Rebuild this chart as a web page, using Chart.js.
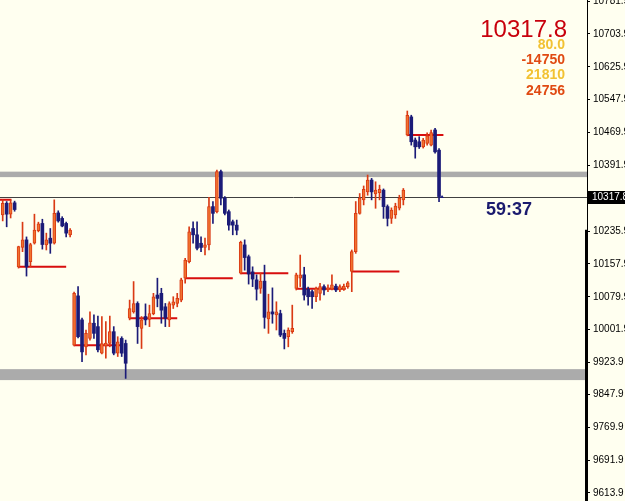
<!DOCTYPE html>
<html><head><meta charset="utf-8">
<script src="https://cdn.jsdelivr.net/npm/chart.js@4.4.0/dist/chart.umd.min.js"></script>
<style>html,body{margin:0;padding:0;background:#FFFFF0;}#wrap{width:625px;height:501px;position:relative;}</style>
</head><body><div id="wrap"><canvas id="c" width="625" height="501"></canvas></div>
<script>
// ---- data ----
const opens = [10274,10302,10276,10303,10151,10197,10215,10163,10207,10237,
10254,10203,10219,10207,10279,10266,10254,10227,9965,10082,
10025,9961,9981,10017,10009,9946,9963,9969,9997,9946,
9981,9969,10029,10044,10064,10005,10033,10026,10040,10084,
10088,10056,10025,10060,10064,10072,10124,10163,10242,10227,
10207,10197,10203,10294,10282,10377,10314,10282,10258,10250,
10136,10203,10175,10139,10120,10100,10117,10027,10044,10037,
10040,9993,9985,9997,10100,10124,10132,10098,10092,10080,
10088,10104,10096,10098,10105,10096,10098,10104,10140,10187,
10278,10310,10329,10357,10324,10327,10333,10294,10266,10274,
10290,10310,10464,10507,10452,10448,10436,10444,10440,10476,
10428];
const highs = [10310,10306,10310,10307,10200,10257,10222,10207,10276,10257,
10264,10231,10242,10310,10284,10270,10257,10242,10091,10104,
10029,10001,10044,10037,10034,10033,10021,10034,10009,9985,
9985,9977,10072,10116,10068,10033,10063,10060,10088,10124,
10100,10064,10068,10080,10088,10124,10171,10246,10258,10258,
10222,10219,10316,10306,10381,10381,10318,10286,10262,10262,
10212,10215,10179,10151,10132,10136,10155,10086,10101,10068,
10048,10001,10006,10060,10136,10179,10150,10103,10096,10103,
10112,10108,10108,10132,10110,10108,10110,10116,10191,10306,
10325,10343,10369,10361,10353,10345,10336,10298,10291,10302,
10321,10337,10521,10511,10457,10460,10456,10469,10476,10480,
10432];
const lows = [10260,10246,10267,10283,10148,10187,10129,10151,10205,10234,
10193,10191,10183,10205,10257,10246,10222,10222,9963,9982,
9926,9942,9977,9981,9949,9944,9934,9961,9942,9938,
9938,9886,10025,10041,9969,9957,10013,10009,10037,10056,
10017,10009,10009,10052,10056,10068,10112,10160,10207,10191,
10187,10179,10191,10254,10279,10298,10274,10238,10227,10227,
10134,10143,10110,10104,10072,10088,10005,9993,10017,10001,
9985,9956,9961,9993,10096,10104,10072,10060,10052,10068,
10072,10084,10092,10096,10092,10092,10095,10100,10092,10183,
10276,10298,10321,10310,10290,10310,10266,10248,10254,10266,
10286,10298,10462,10440,10409,10432,10433,10440,10438,10421,
10306];
const closes = [10302,10276,10303,10287,10199,10215,10151,10204,10238,10253,
10204,10215,10207,10278,10260,10248,10231,10238,10088,9985,
9949,9993,10018,9993,9954,9969,9970,9997,9946,9973,
9946,9922,10052,10064,10009,10025,10025,10040,10080,10076,
10048,10029,10064,10068,10076,10120,10167,10234,10227,10195,
10197,10203,10294,10278,10377,10314,10278,10250,10250,10238,
10209,10173,10134,10122,10098,10117,10031,10044,10039,10044,
9989,9981,10001,10005,10132,10132,10084,10080,10080,10100,
10104,10096,10101,10108,10096,10104,10105,10113,10187,10278,
10314,10335,10357,10329,10333,10335,10294,10266,10286,10295,
10314,10333,10511,10448,10436,10436,10452,10462,10470,10424,
10317.8];
const yTickValues = [10781.9,10703.9,10625.9,10547.9,10469.9,10391.9,10235.9,10157.9,10079.9,10001.9,9923.9,9847.9,9769.9,9691.9,9613.9];
const lastPrice = 10317.8;
const bandLow = [10364, 9882];
const bandHigh = [10377, 9908];
const segStart = [-1, 4, 18, 32, 46, 60, 74, 88, 102];
const segEnd = [2.2, 16, 30, 44, 58, 72, 86.5, 100, 111.1];
const segLevel = [10310, 10151, 9965, 10029, 10124, 10136, 10099, 10140, 10464];
const infoTexts = ['10317.8', '80.0', '-14750', '21810', '24756'];
const timerText = '59:37';

// ---- styles ----
const BG = '#FFFFF0';
const UP_FILL = '#F0732F', UP_EDGE = '#DA3A14', DOWN = '#1B1B78';

const idx = opens.map((_, i) => i);
const isUp = i => closes[i] >= opens[i];
const bodies = idx.map(i => ({x: i, y: [opens[i], closes[i]]}));
const wicks = idx.map(i => ({x: i, y: [lows[i], highs[i]]}));
const segData = [];
segStart.forEach((s, k) => {
  segData.push({x: s, y: segLevel[k]}, {x: segEnd[k], y: segLevel[k]}, {x: segEnd[k] + 0.01, y: null});
});

const overlay = {
  id: 'overlay',
  beforeDraw(chart) {
    const ctx = chart.ctx;
    ctx.save(); ctx.fillStyle = BG; ctx.fillRect(0, 0, chart.width, chart.height); ctx.restore();
  },
  beforeDatasetsDraw(chart) {
    const {ctx, chartArea: a, scales: {y}} = chart;
    ctx.save();
    ctx.fillStyle = '#ABABAB';
    bandLow.forEach((lo, k) => {
      const y1 = y.getPixelForValue(bandHigh[k]), y2 = y.getPixelForValue(lo);
      ctx.fillRect(a.left, y1, a.right - a.left, y2 - y1);
    });
    const py = Math.round(y.getPixelForValue(lastPrice)) + 0.5;
    ctx.strokeStyle = '#404040'; ctx.lineWidth = 1;
    ctx.beginPath(); ctx.moveTo(a.left, py); ctx.lineTo(a.right, py); ctx.stroke();
    ctx.restore();
  },
  afterDraw(chart) {
    const {ctx, chartArea: a, scales: {x, y}} = chart;
    ctx.save();
    // thicker lower part of the price axis line
    ctx.fillStyle = '#000';
    ctx.fillRect(a.right - 2, y.getPixelForValue(10239), 3, chart.height);
    // last price box
    const py = Math.round(y.getPixelForValue(lastPrice));
    ctx.fillStyle = '#000';
    ctx.fillRect(a.right, py - 6, chart.width - a.right, 13);
    ctx.fillStyle = '#FFF';
    ctx.font = '10px "Liberation Sans", Arial, sans-serif';
    ctx.textBaseline = 'middle'; ctx.textAlign = 'left';
    ctx.fillText(lastPrice.toFixed(1), a.right + 5, py + 0.5);
    // small marker at last close
    const mx = x.getPixelForValue(idx.length - 1) + 3;
    ctx.fillStyle = DOWN;
    ctx.beginPath(); ctx.moveTo(mx - 2, py + 1); ctx.lineTo(mx + 2, py + 1); ctx.lineTo(mx, py - 2); ctx.closePath(); ctx.fill();
    // info texts top right
    ctx.textAlign = 'right'; ctx.textBaseline = 'alphabetic';
    ctx.fillStyle = '#C8000C';
    ctx.font = '24px "Liberation Sans", Arial, sans-serif';
    ctx.fillText(infoTexts[0], 567, 37);
    const cols = ['#F2C232', '#E04A12', '#F2C232', '#E04A12'];
    const bases = [48.5, 63.5, 79, 94.5];
    ctx.font = 'bold 14px "Liberation Sans", Arial, sans-serif';
    for (let k = 1; k < infoTexts.length; k++) {
      ctx.fillStyle = cols[k - 1];
      ctx.fillText(infoTexts[k], 565, bases[k - 1]);
    }
    // timer
    ctx.textAlign = 'left';
    ctx.fillStyle = '#1A1A6E';
    ctx.font = 'bold 18px "Liberation Sans", Arial, sans-serif';
    ctx.fillText(timerText, 486, 215);
    ctx.restore();
  }
};

new Chart(document.getElementById('c'), {
  type: 'bar',
  data: {
    datasets: [
      {
        label: 'body', data: bodies, order: 0, grouped: false,
        barThickness: 3, minBarLength: 1, borderSkipped: false,
        backgroundColor: c => isUp(c.dataIndex) ? UP_FILL : DOWN,
        borderColor: c => isUp(c.dataIndex) ? UP_EDGE : DOWN,
        borderWidth: c => isUp(c.dataIndex) ? 1 : 0
      },
      {
        label: 'wick', data: wicks, order: 1, grouped: false,
        barThickness: 1, borderSkipped: false, borderWidth: 0,
        backgroundColor: c => isUp(c.dataIndex) ? UP_EDGE : DOWN
      },
      {
        type: 'line', label: 'open', data: segData, order: 2,
        borderColor: '#D80E0E', borderWidth: 2, pointRadius: 0, spanGaps: false, tension: 0
      }
    ]
  },
  options: {
    responsive: false, animation: false, devicePixelRatio: 1,
    layout: {padding: 0},
    plugins: {legend: {display: false}, tooltip: {enabled: false}},
    scales: {
      x: {type: 'linear', display: false, min: -0.68, max: 147.3, offset: false},
      y: {
        position: 'right', min: 9594.9, max: 10784.6,
        afterBuildTicks: s => { s.ticks = yTickValues.map(v => ({value: v})); },
        afterFit: s => { s.width = 38; s.paddingTop = 0; s.paddingBottom = 0; },
        ticks: {color: '#000', autoSkip: false, padding: 3,
          font: {family: '"Liberation Sans", Arial, sans-serif', size: 10},
          callback: v => Number(v).toFixed(1)},
        grid: {drawOnChartArea: false, drawTicks: true, tickLength: 3, color: '#000'},
        border: {display: true, color: '#000', width: 1}
      }
    }
  },
  plugins: [overlay]
});
</script></body></html>
